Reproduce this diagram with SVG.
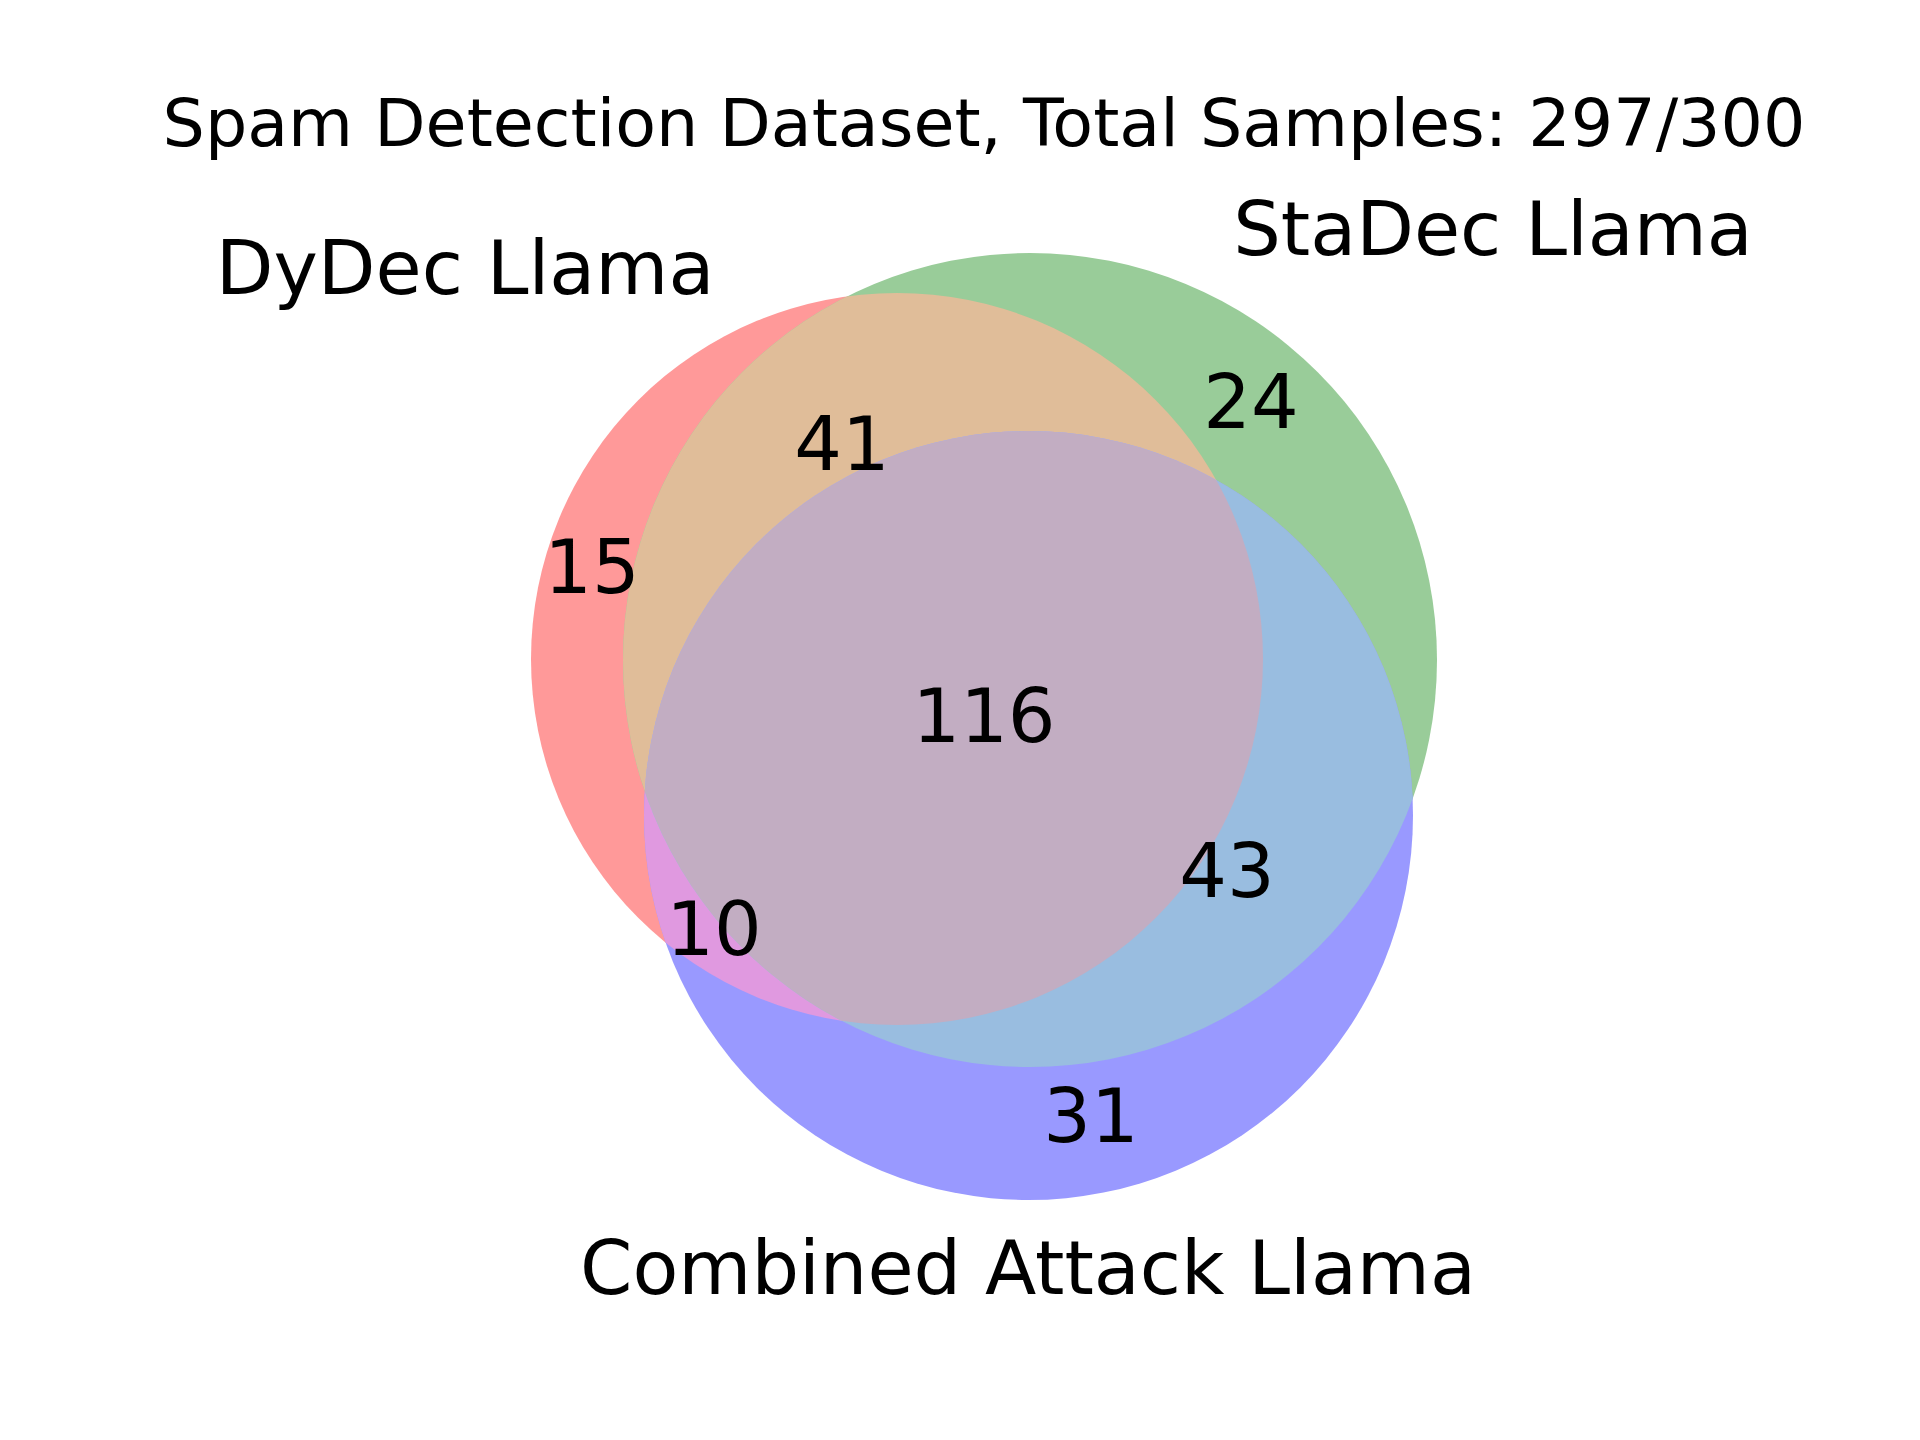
<svg xmlns="http://www.w3.org/2000/svg" width="1920" height="1440" viewBox="0 0 1920 1440">
<style>
  text { font-family: "DejaVu Sans", "Liberation Sans", sans-serif; fill: #000; text-anchor: middle; }
  .title { font-size: 66.7px; }
  .set { font-size: 75px; }
  .num { font-size: 75px; }
</style>
<defs>
  <clipPath id="clipR"><circle cx="897" cy="659" r="366"/></clipPath>
  <clipPath id="clipG"><circle cx="1030" cy="660" r="407"/></clipPath>
</defs>
<rect x="0" y="0" width="1920" height="1440" fill="#ffffff"/>
<g id="regions">
  <g id="set-dydec"><circle cx="897" cy="659" r="366" fill="#FF9999"/></g>
  <g id="set-stadec"><circle cx="1030" cy="660" r="407" fill="#99CC99"/></g>
  <g id="set-combined"><circle cx="1028.5" cy="815.5" r="384.5" fill="#9999FF"/></g>
  <g id="overlap-dydec-stadec"><circle cx="1030" cy="660" r="407" fill="#E0BD99" clip-path="url(#clipR)"/></g>
  <g id="overlap-dydec-combined"><circle cx="1028.5" cy="815.5" r="384.5" fill="#E099E0" clip-path="url(#clipR)"/></g>
  <g id="overlap-stadec-combined"><circle cx="1028.5" cy="815.5" r="384.5" fill="#99BDE0" clip-path="url(#clipG)"/></g>
  <g id="overlap-all" clip-path="url(#clipR)"><circle cx="1028.5" cy="815.5" r="384.5" fill="#C2ADC2" clip-path="url(#clipG)"/></g>
</g>
<g id="connectors"></g>
<g id="labels">
  <text class="title" x="984" y="146">Spam Detection Dataset, Total Samples: 297/300</text>
  <text class="set" x="465" y="294">DyDec Llama</text>
  <text class="set" x="1493" y="255">StaDec Llama</text>
  <text class="set" x="1028" y="1294">Combined Attack Llama</text>
  <text class="num" x="592" y="593">15</text>
  <text class="num" x="842" y="470">41</text>
  <text class="num" x="1251" y="428">24</text>
  <text class="num" x="984" y="742">116</text>
  <text class="num" x="1227" y="897">43</text>
  <text class="num" x="714" y="955">10</text>
  <text class="num" x="1091" y="1142">31</text>
</g>
</svg>
